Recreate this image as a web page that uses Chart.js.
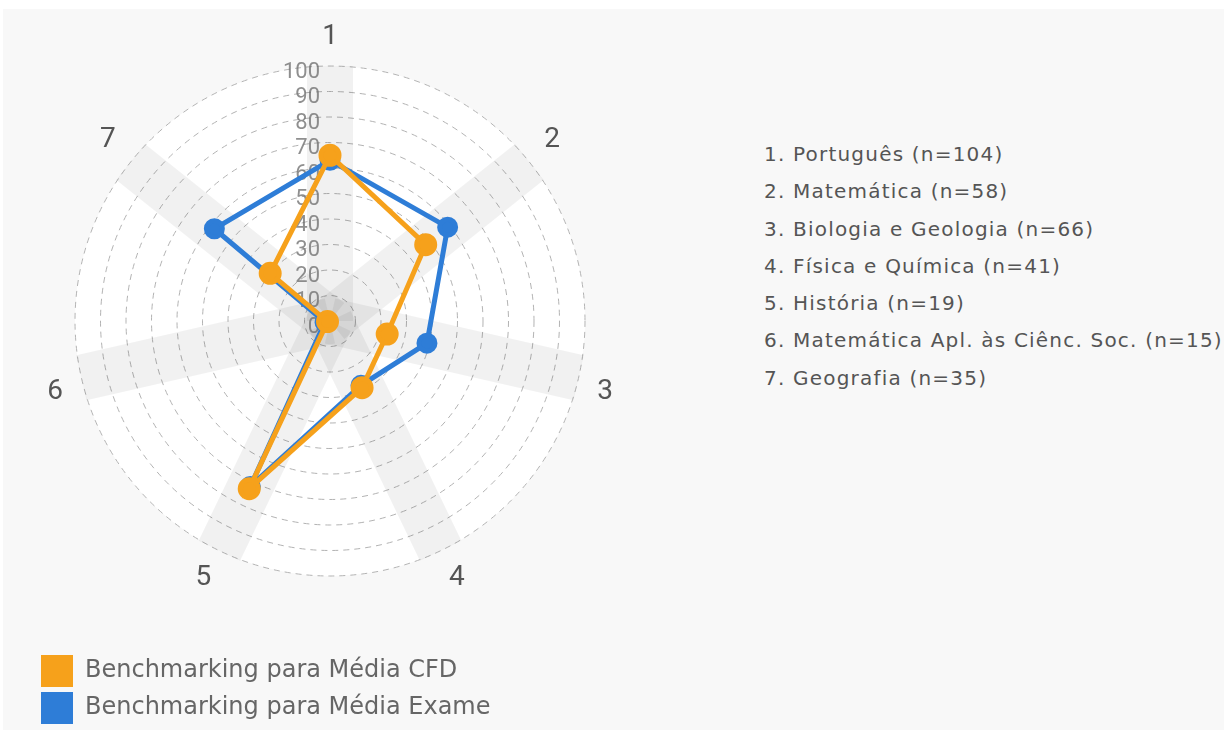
<!DOCTYPE html>
<html>
<head>
<meta charset="utf-8">
<script src="https://cdn.jsdelivr.net/npm/chart.js@4.4.0/dist/chart.umd.min.js"></script>
<style>
    body { margin: 0; background: #fff; overflow: hidden; font-family: "DejaVu Sans", sans-serif; }
    .bg { position: absolute; left: 3px; top: 9px; right: 0; bottom: 0; background: #f8f8f8; }
    .chart-box { position: absolute; left: 0; top: 0; width: 624px; height: 734px; }
    .subjects { position: absolute; left: 764px; top: 136px; margin: 0; padding: 0; list-style: none;
        font-size: 20px; line-height: 37.3px; letter-spacing: 1.2px; color: #555; white-space: nowrap; }
</style>
</head>
<body>
<div class="bg"></div>
<div class="chart-box"><canvas id="radar" width="624" height="734"></canvas></div>
<ul class="subjects" id="subjects"></ul>

<script>
// Axis labels and values
const axisLabels = ['1', '2', '3', '4', '5', '6', '7'];
const subjectNames = ['Português', 'Matemática', 'Biologia e Geologia', 'Física e Química',
    'História', 'Matemática Apl. às Ciênc. Soc.', 'Geografia'];
const subjectN = [104, 58, 66, 41, 19, 15, 35];
const mediaCFD = [65, 48, 23, 29, 73, 1, 30];
const mediaExame = [63, 59, 39, 28, 72, 2, 58];
const tickMin = 0, tickMax = 100, tickStep = 10;

const orange = '#f6a11b';
const blue = '#2e7dd7';

// Subject list on the right
document.getElementById('subjects').innerHTML = subjectNames
    .map((s, i) => `<li>${axisLabels[i]}. ${s} (n=${subjectN[i]})</li>`).join('');

// Tick numbers drawn left of the vertical axis
const tickLabels = {
    id: 'tickLabels',
    beforeDatasetsDraw(chart) {
        const s = chart.scales.r;
        const ctx = chart.ctx;
        ctx.save();
        ctx.font = '22px Roboto';
        ctx.fillStyle = 'rgba(105,105,105,0.75)';
        ctx.textAlign = 'right';
        ctx.textBaseline = 'middle';
        s.ticks.forEach(t => {
            const y = s.yCenter - s.getDistanceFromCenterForValue(t.value);
            ctx.fillText(t.label ?? String(t.value), s.xCenter - 10, y + 6);
        });
        ctx.restore();
    }
};

const ctx = document.getElementById('radar').getContext('2d');
const radar = new Chart(ctx, {
    type: 'radar',
    data: {
        labels: axisLabels,
        datasets: [{
            label: 'Benchmarking para Média CFD',
            data: mediaCFD,
            borderColor: orange,
            backgroundColor: orange,
            pointBackgroundColor: orange,
            pointBorderColor: orange,
            borderWidth: 5,
            pointRadius: 9,
            fill: false,
            tension: 0
        }, {
            label: 'Benchmarking para Média Exame',
            data: mediaExame,
            borderColor: blue,
            backgroundColor: blue,
            pointBackgroundColor: blue,
            pointBorderColor: blue,
            borderWidth: 5,
            pointRadius: 8,
            fill: false,
            tension: 0
        }]
    },
    options: {
        responsive: false,
        animation: false,
        devicePixelRatio: 1,
        layout: { padding: { top: 12, left: 36, right: 0, bottom: 0 } },
        scales: {
            r: {
                min: tickMin,
                max: tickMax,
                backgroundColor: '#ffffff',
                ticks: { stepSize: tickStep, display: false },
                grid: { circular: true, color: '#b3b3b3', lineWidth: 1 },
                border: { dash: [6, 5] },
                angleLines: { color: 'rgba(0,0,0,0.055)', lineWidth: 46 },
                pointLabels: {
                    color: '#555',
                    padding: 19,
                    font: { family: 'Roboto', size: 28, lineHeight: '20px' }
                }
            }
        },
        plugins: {
            tooltip: { enabled: false },
            legend: {
                position: 'bottom',
                align: 'start',
                title: { display: true, text: '', font: { size: 10, lineHeight: 1 }, padding: { top: 0, bottom: 40 } },
                labels: {
                    boxWidth: 32,
                    boxHeight: 32,
                    padding: 5,
                    color: '#666',
                    font: { family: 'DejaVu Sans', size: 24 },
                    generateLabels(chart) {
                        const items = Chart.defaults.plugins.legend.labels.generateLabels(chart);
                        items.forEach(it => { it.lineWidth = 0; });
                        return items;
                    }
                }
            }
        }
    },
    plugins: [tickLabels]
});
</script>
</body>
</html>
